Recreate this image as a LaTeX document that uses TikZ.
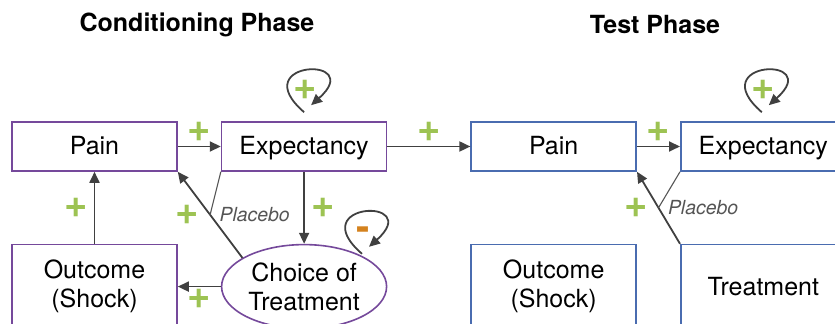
\documentclass[tikz,border=0pt]{standalone}
\usepackage{fontspec}
\setmainfont{TeX Gyre Heros}
\usepackage{tikz}
\usetikzlibrary{
  arrows.meta,
  shapes.geometric,
  positioning,
  calc
}
\definecolor{phCond}{HTML}{75499B}
\definecolor{phTest}{HTML}{4A6CB0}
\definecolor{phPlus}{HTML}{9DC353}
\definecolor{phMinus}{HTML}{D4821E}
\definecolor{phLine}{HTML}{404040}
\definecolor{phMute}{HTML}{555555}
\tikzset{
  phnode/.style={
    draw, line width=0.8pt, minimum width=82.5pt, inner sep=0pt,
    align=center, font=\fontsize{12.5}{14.5}\selectfont
  },
  oneline/.style={text height=9pt, text depth=1.2pt},
  condbox/.style={phnode, draw=phCond, minimum height=24.5pt},
  testbox/.style={phnode, draw=phTest, minimum height=24.5pt},
  condlow/.style={condbox, minimum height=42pt},
  testlow/.style={testbox, minimum height=42pt},
  choicebox/.style={phnode, ellipse, draw=phCond, minimum height=42pt},
  flow/.style={-{Triangle[length=5.5pt, width=5pt]}, line width=0.9pt, phLine},
  modline/.style={line width=0.55pt, phMute},
  plussign/.style={font=\fontsize{20}{20}\selectfont\bfseries, text=phPlus, inner sep=0pt},
  minussign/.style={plussign, text=phMinus},
  placebo/.style={font=\fontsize{9.7}{11}\selectfont\itshape, text=phMute, inner sep=0pt},
  phasetitle/.style={font=\fontsize{12.5}{14}\selectfont\bfseries}
}

\begin{document}
\begin{tikzpicture}[x=0.5pt, y=-0.5pt, node distance=36pt and 21.5pt]
  \clip (0,0) rectangle (835,324);
  % phase titles
  \node[phasetitle] (ctitle) at (197,25) {Conditioning Phase};
  \node[phasetitle] (ttitle) at (655,25) {Test Phase};

  % conditioning phase
  \node[condbox, oneline] (cpain) at (94.5,146.5) {Pain};
  \node[condbox, oneline, right=of cpain] (cexp) {Expectancy};
  \node[condlow, below=of cpain] (cout) {Outcome\\(Shock)};
  \node[choicebox, below=of cexp] (cchoice) {Choice of\\Treatment};

  % test phase
  \node[testbox, oneline, right=41.5pt of cexp] (tpain) {Pain};
  \node[testbox, oneline, right=of tpain] (texp) {Expectancy};
  \node[testlow, below=of tpain] (tout) {Outcome\\(Shock)};
  \node[testlow, below=of texp] (ttreat) {Treatment};

  % links, conditioning
  \draw[flow] (cpain) -- node[plussign, above=2pt] (cp1) {+} (cexp);
  \draw[flow] (cout) -- node[plussign, left=3pt] (cp2) {+} (cpain);
  \draw[flow] (cexp) -- node[plussign, right=3pt] (cp3) {+} (cchoice);
  \draw[flow] (cchoice) -- node[plussign, below=1pt] (cp4) {+} (cout);
  \draw[flow] (cchoice.155) -- node[plussign, left=5pt] (cp5) {+}
    coordinate[pos=0.5] (cmod) (cpain.south east);
  \draw[modline] (cexp.south west) -- (cmod) node[placebo, right=4.5pt] (cplac) {Placebo};

  % self loops, conditioning
  \coordinate (cloop) at ($(cexp.north)+(0,-9)$);
  \draw[flow] (cloop) .. controls +(-60,-52) and +(56,-50) .. ($(cloop)+(7,-7)$);
  \node[plussign] (cp6) at ($(cloop)+(1,-22)$) {+};
  \coordinate (closs) at ($(cchoice.28)+(0,-2)$);
  \draw[flow] (closs) .. controls +(-60,-52) and +(56,-50) .. ($(closs)+(7,-7)$);
  \node[minussign] (cm1) at ($(closs)+(1,-20)$) {-};

  % links, test
  \draw[flow] (cexp) -- node[plussign, above=2pt] (tp1) {+} (tpain);
  \draw[flow] (tpain) -- node[plussign, above=2pt] (tp2) {+} (texp);
  \draw[flow] (ttreat.north west) -- node[plussign, left=5pt] (tp3) {+}
    coordinate[pos=0.5] (tmod) (tpain.south east);
  \draw[modline] (texp.south west) -- (tmod) node[placebo, right=4.5pt] (tplac) {Placebo};

  % self loop, test
  \coordinate (tloop) at ($(texp.north)+(-1.5,-9)$);
  \draw[flow] (tloop) .. controls +(-60,-52) and +(56,-50) .. ($(tloop)+(7,-7)$);
  \node[plussign] (tp4) at ($(tloop)+(1,-22)$) {+};
\end{tikzpicture}
\end{document}
